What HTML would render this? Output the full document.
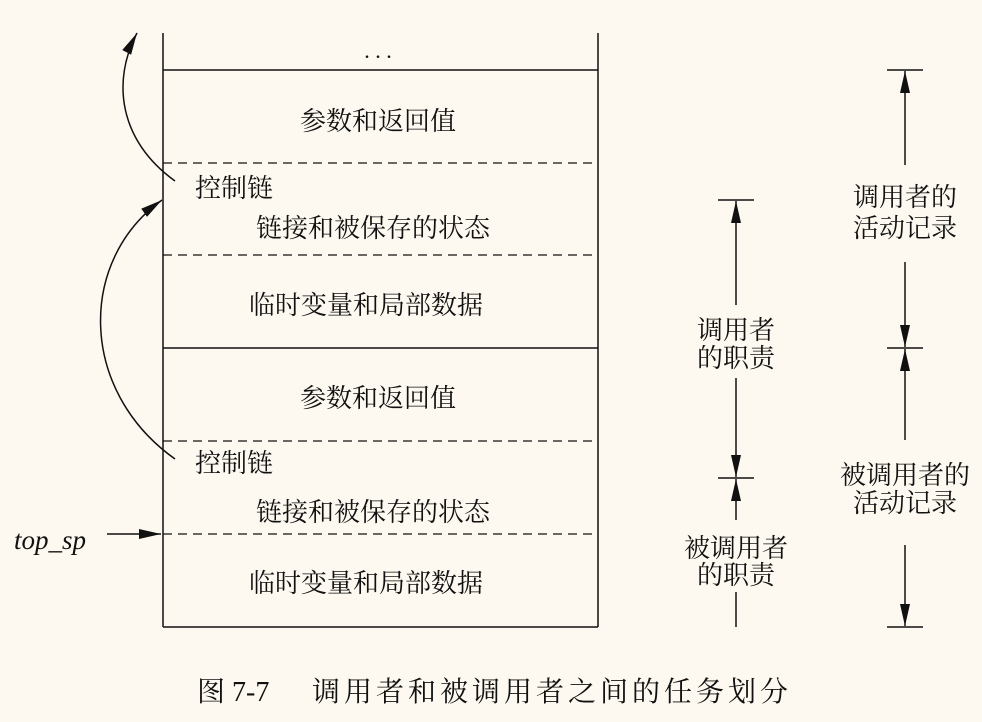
<!DOCTYPE html>
<html><head><meta charset="utf-8"><style>
html,body{margin:0;padding:0;background:#fdf9f0;}
svg text{font-family:"Liberation Serif","Noto Serif CJK SC","Noto Sans CJK SC",serif;fill:#111;}
</style></head><body>
<svg width="982" height="717" viewBox="0 0 982 717" xmlns="http://www.w3.org/2000/svg">
<defs>
<marker id="ah2" markerWidth="22" markerHeight="10" refX="22" refY="5" orient="auto" markerUnits="userSpaceOnUse" viewBox="0 0 22 10">
<path d="M0,0 L22,5 L0,10 Z" fill="#111"/></marker>
</defs>
<g stroke="#111" stroke-width="1.5" fill="none">
<line x1="163" y1="33" x2="163" y2="627"/>
<line x1="598" y1="33" x2="598" y2="627"/>
<line x1="163" y1="627" x2="598" y2="627"/>
<line x1="163" y1="70" x2="598" y2="70"/>
<line x1="163" y1="348" x2="598" y2="348"/>
<g stroke-dasharray="9,6" stroke-width="1.2">
<line x1="163" y1="163" x2="598" y2="163"/>
<line x1="163" y1="255" x2="598" y2="255"/>
<line x1="163" y1="441" x2="598" y2="441"/>
<line x1="163" y1="534" x2="598" y2="534"/>
</g>
<path d="M175,181 C118,140 112,80 137,33" marker-end="url(#ah2)"/>
<path d="M175,459 C78,390 78,260 162,200" marker-end="url(#ah2)"/>
<line x1="107" y1="534" x2="161" y2="534" marker-end="url(#ah2)"/>
<line x1="718" y1="200" x2="754" y2="200"/>
<line x1="736" y1="305" x2="736" y2="201" marker-end="url(#ah2)"/>
<line x1="736" y1="378" x2="736" y2="477" marker-end="url(#ah2)"/>
<line x1="718" y1="478" x2="754" y2="478"/>
<line x1="736" y1="520" x2="736" y2="479" marker-end="url(#ah2)"/>
<line x1="736" y1="592" x2="736" y2="627"/>
<line x1="887" y1="70" x2="923" y2="70"/>
<line x1="905" y1="165" x2="905" y2="71" marker-end="url(#ah2)"/>
<line x1="905" y1="262" x2="905" y2="347" marker-end="url(#ah2)"/>
<line x1="887" y1="348" x2="923" y2="348"/>
<line x1="905" y1="440" x2="905" y2="349" marker-end="url(#ah2)"/>
<line x1="905" y1="545" x2="905" y2="626" marker-end="url(#ah2)"/>
<line x1="887" y1="627" x2="923" y2="627"/>
</g>
<g font-size="26" text-anchor="middle">
<text x="378" y="58" font-size="22">. . .</text>
<text x="378" y="130">参数和返回值</text>
<text x="373" y="237">链接和被保存的状态</text>
<text x="366" y="314">临时变量和局部数据</text>
<text x="378" y="407">参数和返回值</text>
<text x="373" y="521">链接和被保存的状态</text>
<text x="366" y="592">临时变量和局部数据</text>
<text x="736" y="339">调用者</text>
<text x="736" y="367">的职责</text>
<text x="736" y="557">被调用者</text>
<text x="736" y="584">的职责</text>
<text x="905" y="206">调用者的</text>
<text x="905" y="237">活动记录</text>
<text x="905" y="484">被调用者的</text>
<text x="905" y="512">活动记录</text>
</g>
<g font-size="26">
<text x="195" y="197">控制链</text>
<text x="195" y="472">控制链</text>
<text x="14" y="549" font-style="italic" font-size="27">top_sp</text>
<text x="197" y="701" font-size="28">图 7-7</text>
<text x="312" y="701" font-size="28" letter-spacing="4">调用者和被调用者之间的任务划分</text>
</g>
</svg>
</body></html>
